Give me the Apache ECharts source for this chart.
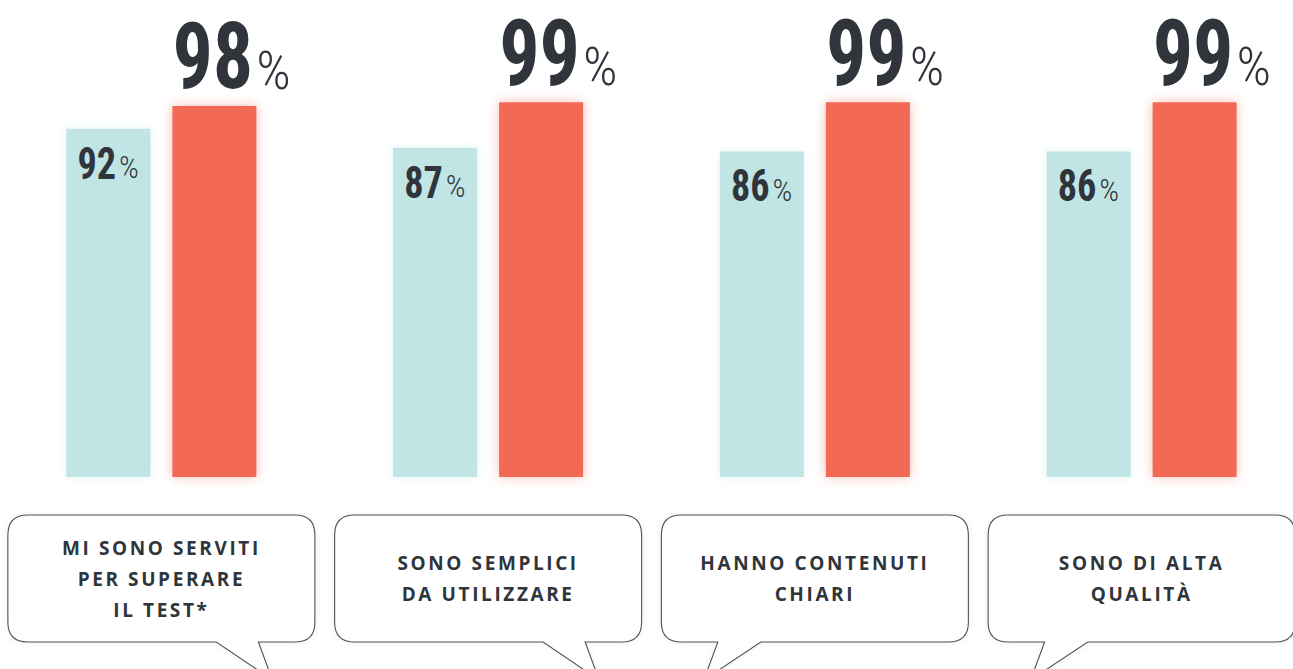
<!DOCTYPE html>
<html>
<head>
<meta charset="utf-8">
<script src="https://cdn.jsdelivr.net/npm/echarts@6/dist/echarts.min.js"></script>
<style>
  html, body { margin: 0; padding: 0; background: #ffffff; }
  #chart { width: 1293px; height: 669px; }
  #chart text[style*="Open Sans"], #chart text[font-family*="Open Sans"] { letter-spacing: 2.6px; }
</style>
</head>
<body>
<div id="chart"></div>
<script>
// ---- data ----
const categories = [
  'MI SONO SERVITI\nPER SUPERARE\nIL TEST*',
  'SONO SEMPLICI\nDA UTILIZZARE',
  'HANNO CONTENUTI\nCHIARI',
  'SONO DI ALTA\nQUALITÀ'
];
const seriesA = [92, 87, 86, 86];
const seriesB = [98, 99, 99, 99];

// ---- styling ----
const DARK = '#2f353b';
const TEAL = '#c1e5e5';
const RED = '#f26b55';
const NUM_FAMILY = "'Roboto Condensed', 'Roboto', sans-serif";
const TXT_FONT = "'Open Sans', sans-serif";
const TAIL_SIDE = [1, 1, -1, -1];
const BAR_W = 84;
const BAR_GAP = 22;

const BIG = { size: 92, pct: 54, scale: 0.87, rise: 17, gap: 3, inset: 0 };
const SMALL = { size: 45, pct: 31, scale: 0.85, drop: 50, gap: 3, inset: 11 };

const measureCtx = document.createElement('canvas').getContext('2d');
function textWidth(txt, font) {
  measureCtx.font = font;
  return measureCtx.measureText(txt).width;
}

const chart = echarts.init(document.getElementById('chart'), null, { renderer: 'svg' });

function bubblePath(cx, top, side) {
  const w = 307, h = 127, r = 20;
  const x0 = cx - w / 2, x1 = cx + w / 2, y0 = top, y1 = top + h;
  let a, b, ax;
  if (side > 0) { a = cx + 55; b = cx + 97; ax = cx + 111; }
  else { a = cx - 97; b = cx - 54; ax = cx - 111; }
  const ay = y1 + 38;
  return [
    'M', x0 + r, y0,
    'L', x1 - r, y0,
    'Q', x1, y0, x1, y0 + r,
    'L', x1, y1 - r,
    'Q', x1, y1, x1 - r, y1,
    'L', b, y1,
    'L', ax, ay,
    'L', a, y1,
    'L', x0 + r, y1,
    'Q', x0, y1, x0, y1 - r,
    'L', x0, y0 + r,
    'Q', x0, y0, x0 + r, y0,
    'Z'
  ].join(' ');
}

function numberLabel(value, left, baseline, cfg) {
  const txt = String(value);
  const font = 'bold ' + cfg.size + 'px ' + NUM_FAMILY;
  const w = textWidth(txt, font) * cfg.scale;
  return [
    {
      type: 'text',
      x: left,
      y: baseline - 0.35 * cfg.size,
      scaleX: cfg.scale,
      style: {
        text: txt,
        fontFamily: NUM_FAMILY,
        fontWeight: 'bold',
        fontSize: cfg.size,
        fill: DARK,
        align: 'left',
        verticalAlign: 'middle'
      }
    },
    {
      type: 'text',
      x: left + w + cfg.gap,
      y: baseline - 0.35 * cfg.pct,
      style: {
        text: '%',
        fontFamily: NUM_FAMILY,
        fontWeight: 300,
        fontSize: cfg.pct,
        fill: DARK,
        align: 'left',
        verticalAlign: 'middle'
      }
    }
  ];
}

const option = {
  backgroundColor: '#ffffff',
  animation: false,
  grid: { left: -2, width: 1307, top: 98.5, bottom: 192, containLabel: false, outerBoundsMode: 'none' },
  xAxis: {
    type: 'category',
    data: categories,
    axisLine: { show: false },
    axisTick: { show: false },
    axisLabel: { show: false },
    splitLine: { show: false }
  },
  yAxis: {
    type: 'value',
    min: 0,
    max: 100,
    show: false
  },
  series: [
    {
      type: 'bar',
      data: seriesA,
      barWidth: BAR_W,
      barGap: (BAR_GAP / BAR_W * 100) + '%',
      itemStyle: { color: TEAL, shadowBlur: 8, shadowColor: 'rgba(193,229,229,0.45)' }
    },
    {
      type: 'bar',
      data: seriesB,
      barWidth: BAR_W,
      itemStyle: { color: RED, shadowBlur: 12, shadowColor: 'rgba(242,107,85,0.45)' }
    },
    {
      // value labels, placed from the same axis coordinates as the bars
      type: 'custom',
      data: categories.map((c, i) => [i, seriesA[i], seriesB[i]]),
      silent: true,
      clip: false,
      z: 5,
      renderItem: function (params, api) {
        const i = api.value(0);
        const a = api.value(1);
        const b = api.value(2);
        const cx = api.coord([i, 0])[0];
        const topA = api.coord([i, a])[1];
        const topB = api.coord([i, b])[1];
        const leftA = cx - BAR_GAP / 2 - BAR_W;
        const leftB = cx + BAR_GAP / 2;
        return {
          type: 'group',
          children: [].concat(
            numberLabel(a, leftA + SMALL.inset, topA + SMALL.drop, SMALL),
            numberLabel(b, leftB + BIG.inset, topB - BIG.rise, BIG)
          )
        };
      }
    },
    {
      type: 'custom',
      data: categories.map((c, i) => [i, 0]),
      silent: true,
      clip: false,
      renderItem: function (params, api) {
        const i = api.value(0);
        const pt = api.coord([i, 0]);
        const cx = pt[0];
        const top = pt[1] + 38;
        return {
          type: 'group',
          children: [
            {
              type: 'path',
              shape: { pathData: bubblePath(cx, top, TAIL_SIDE[i]) },
              style: { fill: '#ffffff', stroke: '#4d5258', lineWidth: 1.1, shadowBlur: 6, shadowColor: 'rgba(0,0,0,0.06)' }
            },
            {
              type: 'text',
              x: cx,
              y: top + 63.5,
              style: {
                text: categories[i],
                fontFamily: TXT_FONT,
                fontWeight: 'bold',
                fontSize: 19,
                lineHeight: 31,
                fill: DARK,
                align: 'center',
                verticalAlign: 'middle'
              }
            }
          ]
        };
      }
    }
  ]
};

chart.setOption(option);
</script>
</body>
</html>
